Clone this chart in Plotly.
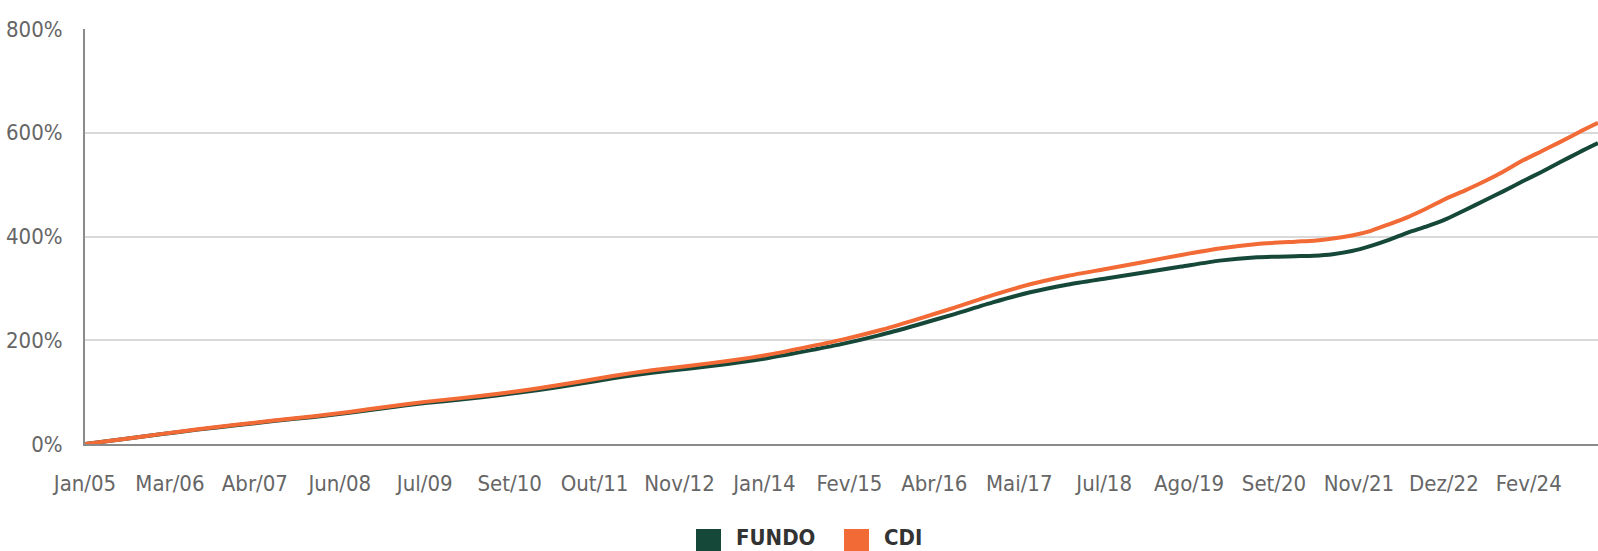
import pandas as pd
import plotly.graph_objects as go

# Observation dates: semi-annual up to 2020, quarterly afterwards
dates = (["2005-01-01"]
         + [f"{y}-{md}" for y in range(2005, 2021) for md in ("06-30", "12-31")]
         + [f"{y}-{md}" for y in range(2021, 2025) for md in ("03-31", "06-30", "09-30", "12-31")])

# Cumulative return, in %
fundo = [0, 9.0, 18.6, 27.7, 36.0, 44.3, 51.7, 60.0, 70.0, 78.9,
         86.3, 94.4, 104.0, 115.0, 127.0, 137.3, 145.5, 154.2, 164.8, 178.0,
         192.5, 209.5, 229.5, 250.5, 273.0, 292.5, 307.5, 319.0, 330.5, 342.0,
         353.5, 360.0, 362.0,
         363.0, 366.0, 372.0, 382.0,
         394.0, 408.0, 420.0, 434.0,
         451.0, 469.0, 487.0, 506.0,
         524.0, 543.0, 562.0, 580.0]
cdi = [0, 9.2, 19.0, 28.3, 36.9, 45.4, 53.1, 61.7, 72.0, 81.2,
       88.9, 97.4, 107.5, 118.9, 131.6, 142.3, 151.0, 160.0, 171.2, 185.3,
       200.7, 218.8, 240.4, 263.0, 287.0, 308.0, 324.5, 337.5, 351.0, 364.5,
       377.0, 385.5, 390.0,
       392.0, 396.0, 402.0, 411.0,
       424.0, 438.0, 455.0, 473.5,
       489.0, 506.0, 525.0, 546.0,
       564.0, 582.0, 601.0, 619.0]

series_names = ["FUNDO", "CDI"]
series_colors = ["#16483A", "#F26A35"]

tick_labels = ["Jan/05", "Mar/06", "Abr/07", "Jun/08", "Jul/09", "Set/10", "Out/11",
               "Nov/12", "Jan/14", "Fev/15", "Abr/16", "Mai/17", "Jul/18", "Ago/19",
               "Set/20", "Nov/21", "Dez/22", "Fev/24"]
y_ticks = [0, 200, 400, 600, 800]
y_tick_text = [f"{v}%" for v in y_ticks]

start = pd.Timestamp("2005-01-01")
tick_vals = [start + pd.Timedelta(days=410 * k) for k in range(len(tick_labels))]

FONT = "DejaVu Sans Condensed, Liberation Sans Narrow, Arial Narrow, sans-serif"
TICK_COLOR = "#666666"

fig = go.Figure()
for name, values, color in zip(series_names, [fundo, cdi], series_colors):
    fig.add_trace(go.Scatter(
        x=dates, y=values, name=name, mode="lines",
        line=dict(color=color, width=4, shape="spline", smoothing=0.6),
        showlegend=False,
    ))

# Plot area in pixels
L, R, T, B = 85, 1598, 29, 444
def px_x(p):
    return (p - L) / (R - L)
def px_y(p):
    return (B - p) / (B - T)

# Legend under the plot: large colour squares with bold captions
legend_items = [(696, 735), (844, 883)]
for (sq_x, tx_x), name, color in zip(legend_items, series_names, series_colors):
    fig.add_shape(type="rect", xref="paper", yref="paper",
                  x0=px_x(sq_x), x1=px_x(sq_x + 25), y0=px_y(529), y1=px_y(554),
                  fillcolor=color, line=dict(width=0))
    fig.add_annotation(xref="paper", yref="paper", x=px_x(tx_x), y=px_y(551),
                       xanchor="left", yanchor="bottom", showarrow=False,
                       text=f"<b>{name}</b>", borderpad=0,
                       font=dict(family=FONT, size=22, color="#333333"))

fig.update_layout(
    width=1598, height=551,
    margin=dict(l=L, r=1598 - R, t=T, b=551 - B),
    paper_bgcolor="white", plot_bgcolor="white",
    font=dict(family=FONT, size=22, color=TICK_COLOR),
    showlegend=False,
)
fig.update_xaxes(
    type="date", range=["2005-01-01", "2024-12-31"],
    tickvals=tick_vals, ticktext=tick_labels,
    showgrid=False, showline=True, linecolor="#8a8a8a", linewidth=2,
    ticks="", ticklabelstandoff=19, zeroline=False,
    tickfont=dict(family=FONT, size=22, color=TICK_COLOR),
)
fig.update_yaxes(
    range=[0, 800], tickvals=y_ticks, ticktext=y_tick_text,
    showgrid=True, gridcolor="#d9d9d9", gridwidth=1.5,
    showline=True, linecolor="#8a8a8a", linewidth=2,
    ticks="", ticklabelstandoff=16, zeroline=False,
    tickfont=dict(family=FONT, size=22, color=TICK_COLOR),
)

fig.write_html("out.html")
